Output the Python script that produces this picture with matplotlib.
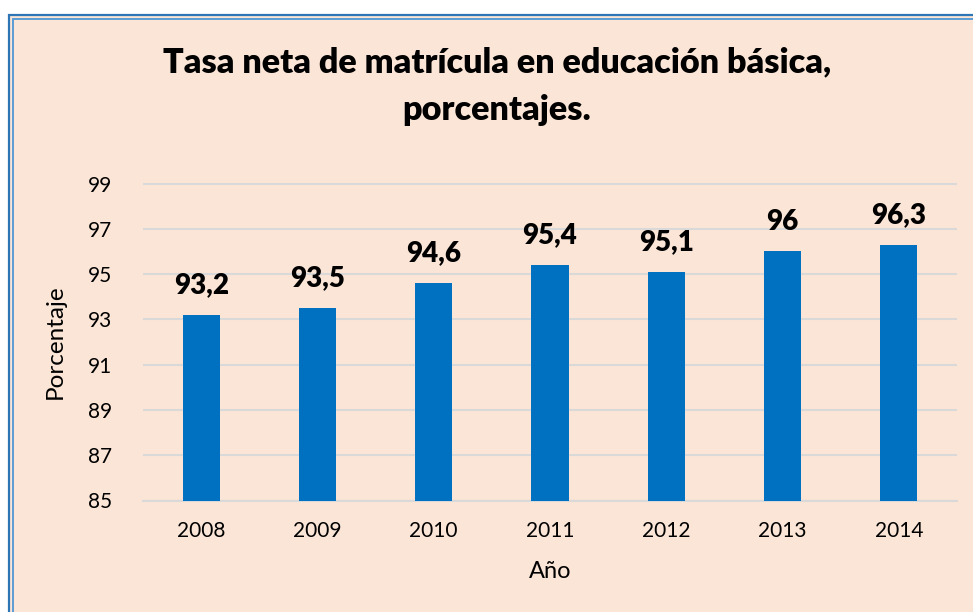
import matplotlib
matplotlib.use("Agg")
import matplotlib.pyplot as plt
from matplotlib.patches import Rectangle

# data
years = ["2008", "2009", "2010", "2011", "2012", "2013", "2014"]
tasa = [93.2, 93.5, 94.6, 95.4, 95.1, 96.0, 96.3]
etiquetas = ["93,2", "93,5", "94,6", "95,4", "95,1", "96", "96,3"]
yticks = [85, 87, 89, 91, 93, 95, 97, 99]

plt.rcParams['font.family'] = ['Lato', 'DejaVu Sans']

W, H = 973, 612
fig = plt.figure(figsize=(W / 100, H / 100), dpi=100)
fig.patch.set_facecolor('white')

# peach background panel with double blue border (runs off right/bottom edge)
def px(x, y):
    return x / W, 1 - y / H

x0, y0 = px(9, 15)
fig.patches.append(Rectangle((x0, -0.1), 1.2, y0 + 0.1, transform=fig.transFigure,
                             facecolor='#FBE5D6', edgecolor='#2E75B6', linewidth=1.6, zorder=-2))
x1, y1 = px(12.5, 18.5)
fig.patches.append(Rectangle((x1, -0.1), 1.2, y1 + 0.1, transform=fig.transFigure,
                             facecolor='none', edgecolor='#5B9BD5', linewidth=1.4, zorder=-1))

ax = fig.add_axes([143 / W, 1 - 500.5 / H, (957 - 143) / W, (500.5 - 183.5) / H])
ax.set_facecolor('none')

xs = range(len(years))
ax.bar(xs, tasa, width=0.32, color='#0070C0', zorder=3)
ax.set_ylim(85, 99)
ax.set_xlim(-0.5, len(years) - 0.5)
ax.set_yticks(yticks)
ax.set_xticks(list(xs))
ax.set_xticklabels(years)
ax.grid(axis='y', color='#D9D9D9', linewidth=1.5, zorder=0)
for s in ['top', 'right', 'left']:
    ax.spines[s].set_visible(False)
ax.spines['bottom'].set_color('#D9D9D9')
ax.spines['bottom'].set_linewidth(1.5)
ax.tick_params(axis='both', length=0, labelsize=15)
ax.tick_params(axis='y', pad=22)
ax.tick_params(axis='x', pad=15)

for i, v in enumerate(tasa):
    ax.annotate(etiquetas[i], (i, v), xytext=(0, 15.5), textcoords='offset points',
                ha='center', va='baseline', fontsize=20, fontweight='heavy')

ax.set_ylabel('Porcentaje', fontsize=17.5, labelpad=16)
ax.set_xlabel('Año', fontsize=17, labelpad=14)

fig.text(497 / W, 1 - 86 / H, 'Tasa neta de matrícula en educación básica,\nporcentajes.',
         ha='center', va='center', fontsize=24.6, fontweight='heavy', linespacing=1.62)

fig.savefig('out.png', dpi=100)
